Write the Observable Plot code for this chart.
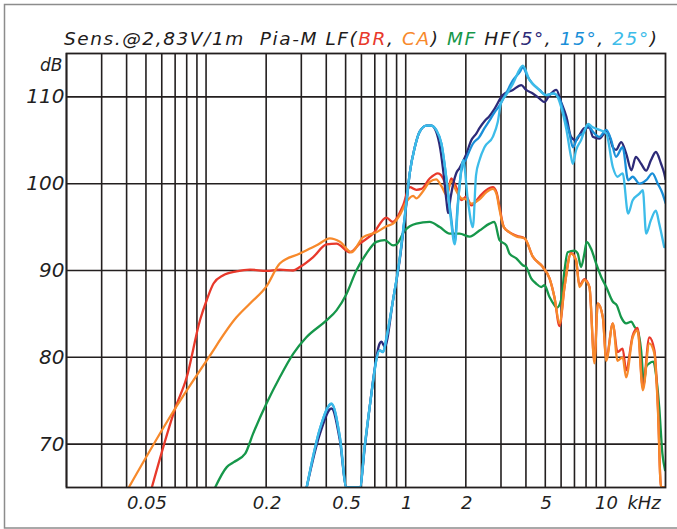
<!DOCTYPE html>
<html>
<head>
<meta charset="utf-8">
<script src="https://cdn.jsdelivr.net/npm/d3@7"></script>
<script src="https://cdn.jsdelivr.net/npm/@observablehq/plot@0.6"></script>
<style>
  body { margin: 0; background: #fff; }
  #chart { position: relative; width: 677px; height: 529px; }
  g[aria-label="level labels"] text { letter-spacing: 2px; }
  g[aria-label="frequency labels"] text { letter-spacing: 2px; }
</style>
</head>
<body>
<div id="chart"></div>
<script>
// Sensitivity at 2.83 V / 1 m, frequency in kHz, level in dB.
const lfBR = [
  [0.0535, 65], [0.070, 74.1], [0.080, 77.7], [0.0933, 84.3], [0.1008, 86.6], [0.109, 88.5],
  [0.122, 89.45], [0.142, 89.9], [0.166, 90.1], [0.201, 89.95], [0.234, 90.1], [0.273, 90.0],
  [0.295, 90.4], [0.344, 91.55], [0.401, 93.0], [0.450, 93.1], [0.525, 92.1], [0.589, 93.1],
  [0.686, 94.25], [0.80, 96.1], [0.86, 95.6], [0.97, 97.5], [1.047, 99.6], [1.13, 99.3],
  [1.198, 99.4], [1.318, 100.6], [1.45, 101.2], [1.567, 100.2], [1.6, 98.5], [1.69, 100.6],
  [1.79, 99.6], [1.9, 98.1], [2.01, 98.5], [2.13, 97.5], [2.34, 98.5], [2.53, 99.25],
  [2.73, 99.6], [2.85, 99.0], [2.95, 97.3], [3.1, 95.0], [3.31, 94.4], [3.6, 94.0],
  [3.94, 93.7], [4.33, 91.6], [4.86, 90.4], [5.25, 89.1], [5.56, 86.9], [5.89, 83.6],
  [6.24, 88.1], [6.73, 92.0], [7.13, 91.2], [7.41, 88.3], [7.85, 89.0], [8.32, 88.1],
  [8.81, 79.6], [9.16, 86.2], [9.71, 84.6], [10.1, 79.9], [10.9, 83.9], [11.5, 80.6],
  [12.2, 81.0], [12.7, 78.5], [13.7, 82.5], [14.5, 83.4], [15.4, 76.5], [16.6, 82.3],
  [17.6, 80.8], [18.3, 74.6], [19.0, 65], [20, 65]
];

const lfCA = [
  [0.041, 65], [0.070, 74.1], [0.1008, 79.65], [0.142, 84.6], [0.166, 86.2], [0.201, 88.2],
  [0.234, 90.8], [0.295, 91.95], [0.358, 92.9], [0.417, 93.7], [0.468, 93.3], [0.535, 92.1],
  [0.612, 93.85], [0.713, 94.4], [0.80, 95.1], [0.864, 95.4], [0.94, 96.5], [1.008, 97.9],
  [1.09, 98.6], [1.13, 98.3], [1.2, 98.9], [1.32, 100.2], [1.42, 100.5], [1.52, 99.6],
  [1.6, 98.7], [1.69, 100.3], [1.79, 99.2], [1.9, 98.3], [2.01, 98.2], [2.13, 97.7],
  [2.34, 98.2], [2.53, 99.0], [2.73, 99.4], [2.85, 98.8], [2.95, 97.0], [3.1, 95.0],
  [3.31, 94.4], [3.6, 93.9], [3.94, 93.7], [4.33, 91.6], [4.86, 90.4], [5.25, 89.1],
  [5.56, 86.9], [5.89, 83.9], [6.24, 88.1], [6.73, 91.95], [7.13, 91.2], [7.41, 88.1],
  [7.85, 88.9], [8.32, 88.1], [8.81, 79.3], [9.16, 86.2], [9.71, 84.6], [10.1, 79.6],
  [10.9, 83.9], [11.5, 79.6], [12.2, 80.0], [12.7, 77.7], [13.7, 82.3], [14.5, 83.1],
  [15.4, 76.2], [16.6, 81.6], [17.6, 80.4], [18.3, 74.3], [19.0, 65], [20, 65]
];

const mf = [
  [0.111, 65], [0.127, 67.35], [0.137, 67.9], [0.157, 68.9], [0.172, 71.2], [0.201, 74.7],
  [0.234, 77.7], [0.273, 80.4], [0.318, 82.3], [0.401, 84.25], [0.45, 85.4], [0.505, 87.3],
  [0.566, 90.0], [0.635, 91.95], [0.713, 93.3], [0.785, 93.5], [0.864, 92.9], [0.898, 93.0],
  [0.989, 94.6], [1.13, 95.4], [1.318, 95.6], [1.48, 95.0], [1.66, 94.25], [1.86, 94.25],
  [2.09, 93.9], [2.34, 94.6], [2.63, 95.4], [2.78, 95.6], [2.95, 93.5], [3.19, 92.9],
  [3.31, 91.95], [3.58, 91.4], [3.86, 90.6], [4.01, 90.4], [4.25, 89.1], [4.5, 88.5],
  [4.77, 88.1], [4.95, 88.3], [5.25, 86.95], [5.56, 86.0], [5.71, 85.7], [6.0, 86.6],
  [6.24, 90.0], [6.47, 92.1], [7.0, 92.3], [7.27, 91.95], [7.55, 90.4], [7.85, 91.95],
  [8.06, 93.3], [8.48, 92.5], [8.99, 90.8], [9.53, 89.25], [10.1, 88.1], [10.9, 86.4],
  [11.4, 86.0], [12.0, 84.6], [12.7, 83.9], [13.5, 84.1], [14.0, 83.5], [14.5, 83.1],
  [15.1, 80.8], [15.6, 77.0], [16.0, 78.9], [16.6, 79.3], [17.4, 79.5], [17.9, 78.1],
  [18.6, 74.3], [19.3, 68.9], [19.9, 67.0]
];

const hf5 = [
  [0.319, 65], [0.372, 71.2], [0.425, 74.1], [0.468, 70.4], [0.505, 65], [0.589, 65],
  [0.624, 69.65], [0.66, 74.3], [0.741, 81.6], [0.756, 81.8], [0.785, 81.2], [0.864, 86.6],
  [0.933, 91.2], [1.008, 97.7], [1.047, 101.2], [1.11, 104.2], [1.175, 106.0], [1.27, 106.7],
  [1.345, 106.7], [1.42, 106.0], [1.49, 104.0], [1.55, 101.0], [1.6, 98.0], [1.63, 96.6],
  [1.68, 98.5], [1.79, 101.2], [1.86, 101.8], [2.01, 103.4], [2.13, 105.0], [2.26, 105.8],
  [2.34, 106.4], [2.48, 107.2], [2.63, 107.8], [2.78, 108.6], [3.06, 110.2], [3.44, 110.8],
  [3.79, 111.35], [4.01, 110.8], [4.33, 110.4], [4.68, 109.8], [4.95, 109.4], [5.25, 110.2],
  [5.68, 110.8], [6.0, 109.4], [6.38, 107.7], [6.73, 105.4], [7.13, 105.0], [7.41, 105.6],
  [7.85, 106.4], [8.32, 106.5], [8.65, 105.4], [9.33, 105.2], [10.1, 106.0], [10.5, 105.4],
  [10.9, 104.2], [11.3, 103.9], [12.0, 104.8], [12.7, 103.5], [13.5, 101.55], [14.2, 103.1],
  [15.1, 102.3], [16.0, 101.5], [16.9, 102.7], [17.9, 103.65], [19.0, 102.3], [19.7, 101.2],
  [20, 100.5]
];

const hf15 = [
  [0.319, 65], [0.372, 71.8], [0.425, 74.6], [0.468, 70.8], [0.505, 65], [0.589, 65],
  [0.624, 69.9], [0.66, 74.3], [0.741, 80.8], [0.77, 80.6], [0.80, 82.2], [0.864, 86.6],
  [0.933, 91.4], [1.008, 97.9], [1.047, 101.2], [1.11, 104.2], [1.175, 106.0], [1.27, 106.7],
  [1.345, 106.7], [1.42, 106.2], [1.51, 104.6], [1.6, 100.5], [1.68, 96.5], [1.76, 93.3],
  [1.82, 97.5], [1.9, 101.5], [2.01, 102.9], [2.17, 104.6], [2.34, 105.4], [2.48, 106.4],
  [2.63, 107.3], [2.78, 108.2], [2.95, 109.0], [3.18, 110.4], [3.44, 111.9], [3.73, 112.9],
  [3.86, 113.4], [4.08, 112.3], [4.33, 111.5], [4.68, 110.8], [5.05, 110.2], [5.45, 110.4],
  [5.89, 109.8], [6.24, 107.7], [6.61, 105.8], [6.87, 104.2], [7.27, 105.4], [7.73, 105.8],
  [8.19, 106.7], [8.65, 106.0], [9.33, 105.4], [10.1, 106.2], [10.7, 105.0], [11.3, 103.1],
  [12.2, 104.2], [13.0, 100.4], [13.7, 100.8], [14.8, 100.0], [16.0, 100.4], [17.2, 101.2],
  [18.3, 100.0], [19.3, 98.9], [20, 97.8]
];

const hf25 = [
  [0.319, 65], [0.372, 71.8], [0.425, 74.7], [0.468, 70.8], [0.505, 65], [0.589, 65],
  [0.624, 69.9], [0.66, 74.3], [0.741, 80.8], [0.77, 80.6], [0.80, 82.2], [0.864, 86.6],
  [0.933, 91.4], [1.008, 97.9], [1.047, 101.2], [1.11, 104.2], [1.175, 106.0], [1.27, 106.7],
  [1.345, 106.7], [1.42, 106.2], [1.51, 104.6], [1.6, 100.5], [1.68, 96.0], [1.76, 93.0],
  [1.84, 98.5], [1.94, 102.7], [2.05, 98.0], [2.17, 95.0], [2.25, 101.0], [2.34, 102.7],
  [2.48, 104.2], [2.73, 105.4], [2.89, 107.1], [3.0, 109.3], [3.18, 110.2], [3.44, 111.5],
  [3.86, 113.6], [4.18, 111.9], [4.5, 111.15], [5.05, 110.2], [5.56, 110.4], [6.0, 108.85],
  [6.38, 106.2], [6.73, 103.1], [6.87, 102.3], [7.13, 103.85], [7.55, 105.0], [8.19, 106.9],
  [8.65, 106.5], [9.33, 106.2], [10.1, 105.8], [10.9, 101.9], [11.5, 100.8], [12.2, 101.2],
  [13.0, 96.55], [13.7, 98.1], [14.8, 98.85], [15.4, 99.25], [16.0, 94.25], [16.9, 95.8],
  [17.9, 96.9], [18.6, 95.4], [19.7, 92.7]
];

// Drawing order: MF underneath, then LF, then HF on top.
const seriesNames = ["MF", "LF BR", "LF CA", "HF 5°", "HF 15°", "HF 25°"];
const seriesData = [mf, lfBR, lfCA, hf5, hf15, hf25];
const seriesColors = ["#16974a", "#e8392b", "#f7892b", "#2d2a78", "#1a8fd8", "#3dbce9"];

const gridFreqs = [0.02, 0.03, 0.04, 0.05, 0.06, 0.07, 0.08, 0.09,
                   0.1, 0.2, 0.3, 0.4, 0.5, 0.6, 0.7, 0.8, 0.9,
                   1, 2, 3, 4, 5, 6, 7, 8, 9, 10];
const gridLevels = [70, 80, 90, 100, 110];
const xTicks = [0.05, 0.2, 0.5, 1, 2, 5, 10];
const xTickLabels = ["0.05", "0.2", "0.5", "1", "2", "5", "10"];
const yTicks = [70, 80, 90, 100, 110];

const titleParts = [
  ["Sens.@2,83V/1m  Pia-M LF(", "#1e1b1b"], ["BR", "#e8392b"], [", ", "#1e1b1b"],
  ["CA", "#f7892b"], [") ", "#1e1b1b"], ["MF", "#16974a"], [" HF(", "#1e1b1b"],
  ["5°", "#2d2a78"], [", ", "#1e1b1b"], ["15°", "#1a8fd8"], [", ", "#1e1b1b"],
  ["25°", "#3dbce9"], [")", "#1e1b1b"]
];

const rows = seriesData.flatMap((pts, i) =>
  pts.map(([f, dB]) => ({series: seriesNames[i], f, dB}))
);

const ink = "#231f1f";

const chart = Plot.plot({
  width: 677,
  height: 529,
  marginLeft: 66,
  marginRight: 12,
  marginTop: 53,
  marginBottom: 42,
  x: {type: "log", domain: [0.02, 20], axis: null},
  y: {domain: [65, 115], axis: null},
  color: {domain: seriesNames, range: seriesColors},
  style: {fontFamily: "DejaVu Sans", fontStyle: "italic", color: ink, background: "white"},
  marks: [
    Plot.ruleX(gridFreqs, {stroke: ink, strokeWidth: 1.6}),
    Plot.ruleY(gridLevels, {stroke: ink, strokeWidth: 1.6}),
    Plot.line(rows, {x: "f", y: "dB", z: "series", stroke: "series", strokeWidth: 2.3,
                     curve: "monotone-x", clip: true}),
    Plot.frame({stroke: ink, strokeWidth: 1.8}),
    // frequency labels under the frame
    Plot.text(xTicks, {x: d => d, text: (d, i) => xTickLabels[i], frameAnchor: "bottom",
                       lineAnchor: "top", dy: 9, dx: 1, fontSize: 18, ariaLabel: "frequency labels"}),
    Plot.text(["kHz"], {x: () => 10, frameAnchor: "bottom", lineAnchor: "top", dy: 9, dx: 22,
                        textAnchor: "start", fontSize: 18, text: d => d}),
    // level labels left of the frame
    Plot.text(yTicks, {y: d => d, text: d => String(d), frameAnchor: "left", dx: -2,
                       textAnchor: "end", fontSize: 20, ariaLabel: "level labels"}),
    Plot.text(["dB"], {frameAnchor: "top-left", lineAnchor: "top", dx: -4, dy: 5,
                       textAnchor: "end", fontSize: 17, text: d => d})
  ]
});

// Outer border and coloured title line
const svg = d3.select(chart);
svg.insert("rect", ":first-child")
  .attr("x", 4.5).attr("y", 4.5).attr("width", 700).attr("height", 523.5)
  .attr("fill", "none").attr("stroke", "#8c8c8c").attr("stroke-width", 1.5);
const title = svg.append("text")
  .attr("x", 64).attr("y", 45)
  .attr("text-anchor", "start")
  .attr("font-size", 18.5)
  .style("white-space", "pre");
titleParts.forEach(([s, c]) => title.append("tspan").attr("fill", c).text(s));

document.getElementById("chart").append(chart);

// spread the title so it runs from the left edge of the frame to x = 657
const titleWidth = title.node().getComputedTextLength();
const nChars = titleParts.map(p => p[0]).join("").length;
title.attr("letter-spacing", ((593 - titleWidth) / (nChars - 1)).toFixed(3));
</script>
</body>
</html>
